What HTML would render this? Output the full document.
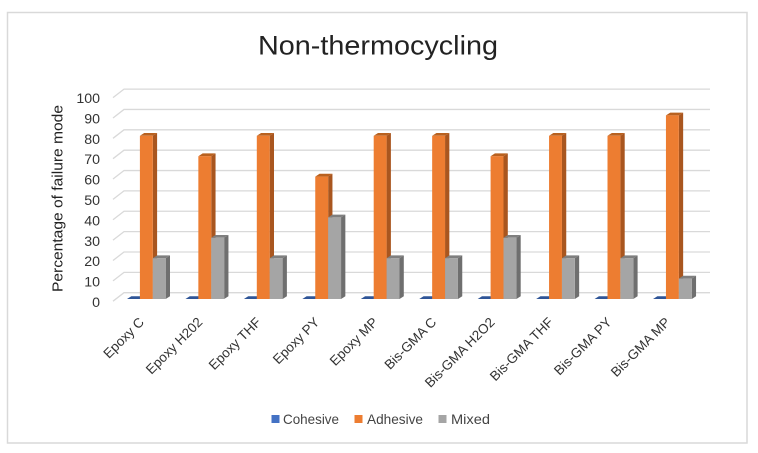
<!DOCTYPE html>
<html>
<head>
<meta charset="utf-8">
<title>Non-thermocycling</title>
<style>
html,body{margin:0;padding:0;background:#fff;}
svg{display:block;font-family:"Liberation Sans",sans-serif;}
</style>
</head>
<body>
<svg id="chart" width="758" height="453" viewBox="0 0 758 453" xmlns="http://www.w3.org/2000/svg">
<rect x="7.5" y="12.5" width="739.5" height="430.5" fill="#fff" stroke="#d9d9d9" stroke-width="1.5"/>
<text x="378" y="54.5" font-size="27" fill="#222" text-anchor="middle" textLength="240" lengthAdjust="spacingAndGlyphs">Non-thermocycling</text>
<text transform="translate(62.5,198.5) rotate(-90)" font-size="14.5" fill="#222" text-anchor="middle" textLength="187" lengthAdjust="spacingAndGlyphs">Percentage of failure mode</text>
<g id="grid"></g>
<g id="yticks"></g>
<g id="bars"></g>
<g id="xticks"></g>
<g>
<rect x="271.5" y="415" width="8" height="8" fill="#4472c4"/>
<text x="283" y="424" font-size="14" fill="#444" textLength="56" lengthAdjust="spacingAndGlyphs">Cohesive</text>
<rect x="354.5" y="415" width="8" height="8" fill="#ed7d31"/>
<text x="367" y="424" font-size="14" fill="#444" textLength="56" lengthAdjust="spacingAndGlyphs">Adhesive</text>
<rect x="438.5" y="415" width="8" height="8" fill="#a5a5a5"/>
<text x="451" y="424" font-size="14" fill="#444" textLength="39" lengthAdjust="spacingAndGlyphs">Mixed</text>
</g>
</svg>
<script>
const categories = ["Epoxy C","Epoxy H202","Epoxy THF","Epoxy PY","Epoxy MP","Bis-GMA C","Bis-GMA H2O2","Bis-GMA THF","Bis-GMA PY","Bis-GMA MP"];
const cohesive = [0,0,0,0,0,0,0,0,0,0];
const adhesive = [80,70,80,60,80,80,70,80,80,90];
const mixed = [20,30,20,40,20,20,30,20,20,10];
const yTicks = [0,10,20,30,40,50,60,70,80,90,100];

const NS = "http://www.w3.org/2000/svg";
const yMax = 100;
function yFront(v){ return 299 - 2.04 * v * 100 / yMax; }
function yBack(v){ return 292.7 - 2.036 * v * 100 / yMax; }
function xBar(i, s){ return 127 + 58.45 * i + 12.9 * s; }

function make(parent, tag, attrs){
  const el = document.createElementNS(NS, tag);
  for (const k in attrs) el.setAttribute(k, attrs[k]);
  parent.appendChild(el);
  return el;
}

const gridG = document.getElementById("grid");
const yG = document.getElementById("yticks");
yTicks.forEach(function(t){
  const yb = yBack(t);
  const line = make(gridG, "polyline", {points:"113,"+(yb+8.5)+" 124,"+yb+" 710,"+yb, fill:"none", stroke:"#d9d9d9", "stroke-width":"1.3"});
  
  
  const label = make(yG, "text", {x:"100", y:yFront(t)+8, "font-size":"14.2", fill:"#333", "text-anchor":"end"});
  label.textContent = t;
  
  
});

const seriesList = [
  {name:"cohesive", values:cohesive, front:"#4472c4", side:"#2b4d8c", top:"#2f5597", s:0},
  {name:"adhesive", values:adhesive, front:"#ed7d31", side:"#a9561f", top:"#b9611f", s:1},
  {name:"mixed", values:mixed, front:"#a5a5a5", side:"#6f6f6f", top:"#7f7f7f", s:2}
];
const barsG = document.getElementById("bars");
const w = 12.9, dx = 4.3, dy = 2.8;
categories.forEach(function(c, i){
  seriesList.forEach(function(sr){
    const x = xBar(i, sr.s), base = yFront(0), yt = yFront(sr.values[i]);
    const g = make(barsG, "g", {});
    
    
    make(g, "polygon", {points:x+","+yt+" "+(x+dx)+","+(yt-dy)+" "+(x+w+dx)+","+(yt-dy)+" "+(x+w)+","+yt, fill:sr.top});
    if (sr.values[i] > 0) {
      make(g, "polygon", {points:(x+w)+","+yt+" "+(x+w+dx)+","+(yt-dy)+" "+(x+w+dx)+","+(base-dy)+" "+(x+w)+","+base, fill:sr.side});
      make(g, "rect", {x:x, y:yt, width:w, height:base-yt, fill:sr.front});
    }
  });
  const lx = xBar(i, 1) + 5, ly = 323;
  const t = make(document.getElementById("xticks"), "text", {transform:"translate("+lx+","+ly+") rotate(-45)", "font-size":"13.5", fill:"#333", "text-anchor":"end"});
  t.textContent = c;
  
  
});
</script>
</body>
</html>
